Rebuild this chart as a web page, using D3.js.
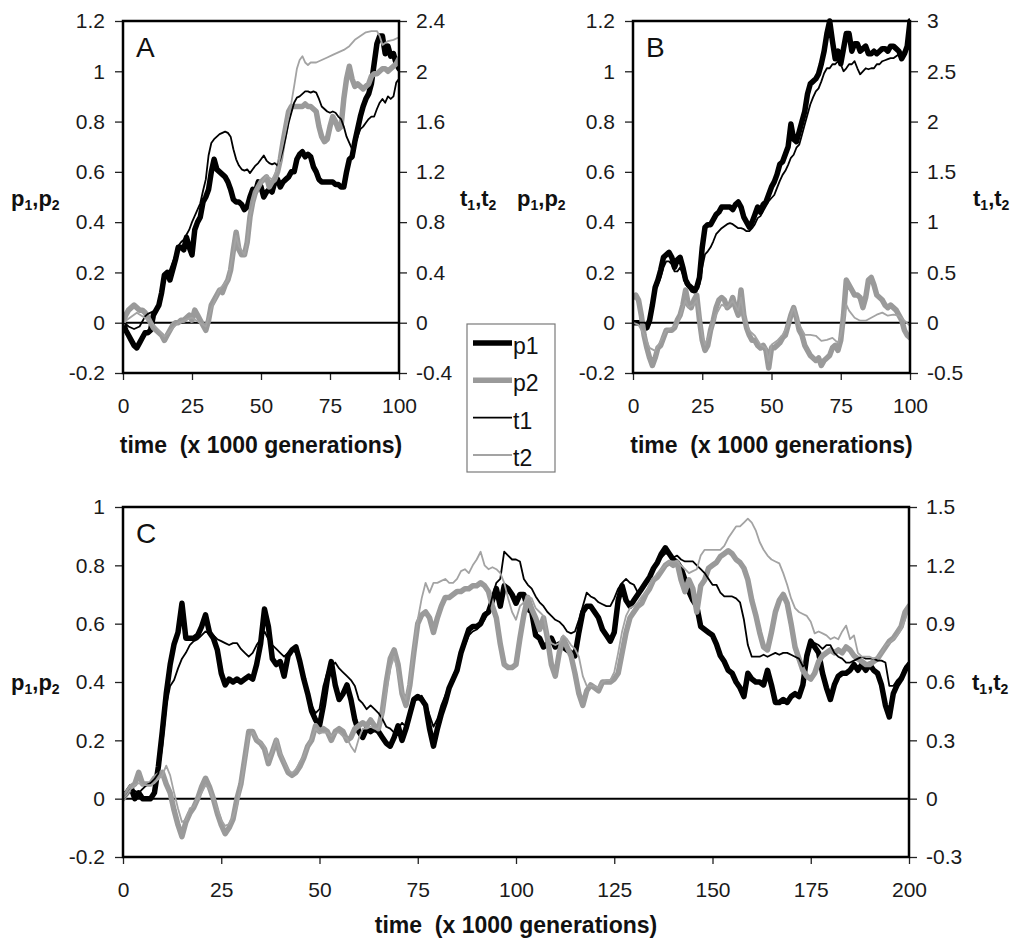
<!DOCTYPE html>
<html><head><meta charset="utf-8">
<script src="https://cdn.jsdelivr.net/npm/d3@7"></script>
<style>
html,body{margin:0;padding:0;background:#fff;}
svg{display:block;}
</style></head>
<body>
<svg id="chart" width="1012" height="942"></svg>
<script>
// ---------------- DATA ----------------
const seriesNames = ["p1", "p2", "t1", "t2"];
const xTicksAB = [0, 25, 50, 75, 100];
const xTicksC = [0, 25, 50, 75, 100, 125, 150, 175, 200];
const leftTicksAB = [-0.2, 0, 0.2, 0.4, 0.6, 0.8, 1, 1.2];
const rightTicksA = [-0.4, 0, 0.4, 0.8, 1.2, 1.6, 2, 2.4];
const rightTicksB = [-0.5, 0, 0.5, 1, 1.5, 2, 2.5, 3];
const leftTicksC = [-0.2, 0, 0.2, 0.4, 0.6, 0.8, 1];
const rightTicksC = [-0.3, 0, 0.3, 0.6, 0.9, 1.2, 1.5];
const xTitle = "time  (x 1000 generations)";

// sampling grids (time, x 1000 generations)
const timeAB = d3.range(0, 101);
const timeC = d3.range(0, 201);

// Panel A
const A_p1 = [0,-0.03,-0.05,-0.07,-0.09,-0.1,-0.08,-0.06,-0.04,-0.04,
-0.03,0.03,0.05,0.07,0.12,0.19,0.2,0.17,0.21,0.25,
0.3,0.3,0.29,0.34,0.3,0.27,0.37,0.4,0.42,0.48,
0.5,0.53,0.6,0.65,0.61,0.6,0.59,0.58,0.56,0.53,
0.49,0.48,0.48,0.47,0.45,0.46,0.5,0.53,0.52,0.56,
0.54,0.5,0.52,0.53,0.52,0.56,0.57,0.54,0.56,0.57,
0.58,0.6,0.6,0.65,0.67,0.68,0.66,0.67,0.66,0.62,
0.6,0.57,0.56,0.56,0.56,0.56,0.56,0.55,0.55,0.54,
0.54,0.6,0.65,0.66,0.72,0.77,0.82,0.86,0.89,0.91,
0.95,1.03,1.11,1.14,1.14,1.07,1.1,1.06,1.07,1.03,
1.01];
const A_p2 = [0,0.03,0.05,0.06,0.07,0.06,0.05,0.05,0.04,0.02,
0,-0.02,-0.03,-0.04,-0.05,-0.07,-0.05,-0.03,-0.01,0,
0,0.01,0.01,0.02,0.03,0.01,0.05,0.03,0.01,-0.01,
-0.03,0.01,0.07,0.09,0.11,0.13,0.12,0.15,0.17,0.21,
0.29,0.36,0.29,0.27,0.27,0.32,0.42,0.48,0.52,0.54,
0.56,0.57,0.58,0.54,0.56,0.57,0.6,0.65,0.72,0.78,
0.84,0.86,0.86,0.86,0.86,0.86,0.87,0.86,0.86,0.85,
0.84,0.78,0.74,0.72,0.73,0.78,0.82,0.8,0.77,0.78,
0.89,0.97,1.02,0.97,0.94,0.95,0.94,0.93,0.94,0.95,
0.98,0.99,0.99,1,1.01,1.01,1,1.01,1.02,1.03,
1.05];
const A_t1 = [0,-0.01,-0.03,-0.04,-0.05,-0.04,-0.03,0.01,0.05,0.07,
0.08,0.09,0.11,0.15,0.19,0.32,0.4,0.42,0.48,0.54,
0.61,0.64,0.66,0.7,0.74,0.8,0.85,0.9,0.95,1.05,
1.14,1.33,1.43,1.46,1.48,1.5,1.51,1.52,1.51,1.48,
1.38,1.3,1.25,1.22,1.21,1.22,1.19,1.22,1.25,1.27,
1.3,1.33,1.29,1.27,1.26,1.27,1.25,1.3,1.38,1.48,
1.59,1.67,1.75,1.79,1.8,1.82,1.84,1.84,1.83,1.84,
1.83,1.78,1.72,1.7,1.68,1.67,1.68,1.67,1.64,1.62,
1.56,1.48,1.43,1.38,1.41,1.48,1.54,1.56,1.59,1.62,
1.64,1.64,1.7,1.75,1.78,1.75,1.8,1.78,1.8,1.91,
1.94];
const A_t2_time = [0,5,10,15,20,25,30,32,35,38,40,41,42,44,45,46,48,50,52,54,56,58,60,61,62,63,64,65,66,67,68,70,72,74,76,78,80,82,84,86,88,90,92,93,94,96,98,100];
const A_t2 = [0,0.08,0.01,-0.11,0,0.04,-0.03,0.11,0.27,0.34,0.56,0.69,0.61,0.54,0.64,0.85,1.03,1.11,1.17,1.14,1.22,1.43,1.64,1.75,1.88,2.02,2.09,2.12,2.07,2.05,2.07,2.07,2.09,2.11,2.13,2.15,2.17,2.2,2.25,2.28,2.31,2.32,2.32,2.28,2.21,2.24,2.25,2.27];

// Panel B
const B_p1 = [0,0,0,0,-0.01,-0.02,0.01,0.07,0.14,0.17,
0.21,0.26,0.27,0.28,0.26,0.22,0.25,0.26,0.22,0.17,
0.15,0.14,0.13,0.14,0.18,0.3,0.38,0.39,0.39,0.41,
0.43,0.44,0.46,0.46,0.46,0.46,0.45,0.47,0.48,0.46,
0.42,0.4,0.38,0.4,0.43,0.46,0.44,0.47,0.48,0.51,
0.54,0.56,0.59,0.63,0.64,0.67,0.7,0.79,0.73,0.72,
0.76,0.8,0.84,0.91,0.95,0.96,0.97,0.99,1.03,1.08,
1.15,1.2,1.12,1.05,1.08,1.03,1.09,1.15,1.15,1.08,
1.11,1.11,1.08,1.09,1.1,1.07,1.07,1.08,1.07,1.08,
1.09,1.09,1.08,1.1,1.1,1.09,1.08,1.05,1.07,1.1,
1.2];
const B_p2 = [0.1,0.11,0.09,0.03,-0.05,-0.1,-0.14,-0.17,-0.14,-0.1,
-0.09,-0.06,-0.03,-0.03,-0.03,-0.02,0.01,0.03,0.07,0.13,
0.07,0.06,0.09,0.11,0.01,-0.07,-0.11,-0.09,-0.03,0.01,
0.06,0.09,0.1,0.09,0.06,0.07,0.1,0.06,0.03,0.13,
0.03,-0.02,-0.05,-0.07,-0.07,-0.09,-0.1,-0.09,-0.11,-0.18,
-0.1,-0.1,-0.09,-0.08,-0.06,-0.05,-0.01,0.03,0.06,0.02,
-0.03,-0.05,-0.09,-0.11,-0.13,-0.14,-0.15,-0.14,-0.17,-0.15,
-0.14,-0.13,-0.1,-0.09,-0.11,-0.07,0.03,0.17,0.15,0.13,
0.11,0.11,0.1,0.06,0.1,0.17,0.18,0.15,0.11,0.1,
0.09,0.07,0.06,0.07,0.06,0.05,0.03,0.01,-0.03,-0.05,
-0.06];
const B_t1 = [0,0,0,0,0,-0.01,-0.02,0.15,0.31,0.38,
0.45,0.55,0.61,0.61,0.58,0.51,0.51,0.55,0.48,0.38,
0.35,0.31,0.3,0.31,0.38,0.55,0.68,0.71,0.75,0.81,
0.88,0.91,0.94,0.96,0.98,0.99,0.98,0.96,0.94,0.94,
0.93,0.91,0.91,0.94,0.98,1.04,1.06,1.11,1.16,1.21,
1.24,1.27,1.34,1.41,1.47,1.51,1.57,1.64,1.67,1.74,
1.77,1.87,1.97,2.07,2.17,2.24,2.3,2.33,2.4,2.48,
2.53,2.53,2.57,2.57,2.6,2.57,2.5,2.53,2.57,2.57,
2.6,2.53,2.47,2.5,2.53,2.52,2.53,2.53,2.57,2.57,
2.6,2.61,2.62,2.63,2.63,2.65,2.67,2.68,2.7,2.72,
2.73];
const B_t2_time = [0,2,4,6,8,10,12,14,16,18,19,20,22,23,24,25,26,28,30,32,34,36,38,39,40,42,44,46,48,49,50,52,54,56,57,58,60,62,64,66,68,70,72,74,75,76,77,78,80,82,84,86,88,90,92,94,96,98,100];
const B_t2 = [0,-0.02,-0.12,-0.25,-0.28,-0.18,-0.08,-0.05,-0.02,0.15,0.22,0.15,0.18,0.22,0.08,-0.12,-0.22,-0.08,0.08,0.18,0.15,0.22,0.12,0.25,0.08,-0.08,-0.13,-0.22,-0.25,-0.38,-0.22,-0.18,-0.12,-0.02,0.08,0.15,-0.02,-0.12,-0.12,-0.13,-0.18,-0.17,-0.15,-0.2,-0.12,0.02,0.18,0.12,0.05,0.02,0.02,0.05,0.08,0.1,0.07,0.08,0.07,0.02,-0.03];

// Panel C
const C_p1 = [0.01,0.02,0.04,0,0.02,0,0,0,0.02,0.11,
0.23,0.36,0.46,0.53,0.57,0.67,0.55,0.55,0.55,0.56,
0.59,0.63,0.57,0.55,0.51,0.43,0.39,0.41,0.4,0.41,
0.4,0.41,0.42,0.41,0.46,0.53,0.65,0.59,0.48,0.46,
0.47,0.42,0.49,0.51,0.52,0.47,0.41,0.36,0.3,0.27,
0.25,0.32,0.41,0.47,0.39,0.34,0.36,0.39,0.34,0.27,
0.23,0.21,0.24,0.23,0.24,0.23,0.21,0.19,0.18,0.21,
0.25,0.2,0.24,0.29,0.34,0.35,0.34,0.32,0.24,0.18,
0.24,0.29,0.33,0.38,0.41,0.44,0.5,0.54,0.58,0.59,
0.59,0.6,0.63,0.64,0.68,0.72,0.66,0.73,0.72,0.7,
0.67,0.7,0.7,0.65,0.64,0.56,0.55,0.52,0.53,0.55,
0.52,0.53,0.52,0.51,0.5,0.49,0.57,0.64,0.66,0.66,
0.64,0.62,0.58,0.56,0.54,0.57,0.68,0.73,0.68,0.66,
0.68,0.7,0.72,0.74,0.76,0.79,0.81,0.84,0.86,0.84,
0.82,0.81,0.79,0.75,0.71,0.68,0.66,0.59,0.58,0.57,
0.56,0.53,0.49,0.47,0.44,0.43,0.4,0.38,0.35,0.43,
0.41,0.4,0.4,0.39,0.44,0.39,0.33,0.33,0.34,0.33,
0.35,0.36,0.35,0.39,0.49,0.54,0.52,0.5,0.43,0.38,
0.34,0.39,0.42,0.43,0.43,0.44,0.46,0.44,0.46,0.44,
0.46,0.44,0.43,0.39,0.32,0.28,0.36,0.39,0.41,0.44,
0.46];
const C_p2 = [0,0.02,0.04,0.05,0.09,0.05,0.05,0.05,0.07,0.08,
0.09,0.05,0.02,-0.04,-0.09,-0.13,-0.08,-0.05,-0.03,0,
0.04,0.07,0.04,0,-0.05,-0.09,-0.12,-0.1,-0.07,0,
0.05,0.14,0.23,0.23,0.2,0.19,0.17,0.12,0.16,0.2,
0.15,0.12,0.09,0.08,0.09,0.11,0.14,0.18,0.2,0.25,
0.23,0.24,0.23,0.2,0.23,0.24,0.23,0.2,0.21,0.24,
0.25,0.26,0.25,0.27,0.25,0.24,0.3,0.4,0.48,0.51,
0.46,0.36,0.32,0.39,0.5,0.6,0.63,0.64,0.62,0.57,
0.62,0.66,0.69,0.69,0.7,0.71,0.71,0.72,0.72,0.73,
0.73,0.74,0.73,0.71,0.66,0.62,0.53,0.46,0.45,0.45,
0.46,0.55,0.63,0.69,0.65,0.62,0.58,0.62,0.55,0.46,
0.42,0.5,0.55,0.52,0.49,0.43,0.36,0.32,0.37,0.39,
0.38,0.37,0.4,0.4,0.4,0.41,0.43,0.5,0.57,0.62,
0.64,0.66,0.67,0.7,0.72,0.75,0.76,0.78,0.8,0.81,
0.8,0.81,0.75,0.71,0.75,0.72,0.64,0.73,0.75,0.79,
0.8,0.81,0.83,0.84,0.85,0.84,0.82,0.81,0.79,0.75,
0.68,0.63,0.57,0.52,0.51,0.57,0.64,0.68,0.7,0.67,
0.6,0.52,0.48,0.44,0.42,0.41,0.43,0.47,0.49,0.5,
0.51,0.5,0.51,0.5,0.52,0.51,0.49,0.48,0.47,0.46,
0.46,0.47,0.48,0.5,0.52,0.54,0.55,0.57,0.59,0.64,
0.66];
const C_t1 = [0,0.02,0.05,0.04,0.03,0.05,0.07,0.08,0.1,0.13,
0.27,0.48,0.58,0.61,0.67,0.72,0.75,0.79,0.81,0.82,
0.84,0.86,0.85,0.84,0.82,0.81,0.8,0.79,0.8,0.8,
0.77,0.75,0.73,0.75,0.79,0.82,0.86,0.82,0.79,0.77,
0.75,0.73,0.75,0.77,0.75,0.7,0.61,0.55,0.48,0.44,
0.46,0.58,0.65,0.68,0.7,0.67,0.65,0.63,0.61,0.58,
0.51,0.49,0.46,0.48,0.46,0.44,0.41,0.37,0.36,0.34,
0.36,0.39,0.37,0.44,0.51,0.51,0.53,0.49,0.43,0.37,
0.41,0.48,0.53,0.58,0.63,0.68,0.75,0.79,0.84,0.86,
0.87,0.89,0.92,0.96,1.04,1.11,1.13,1.27,1.25,1.23,
1.23,1.22,1.13,1.1,1.08,1.04,1.01,0.99,0.96,0.94,
0.92,0.91,0.89,0.86,0.85,0.86,0.92,0.99,1.06,1.04,
1.03,1.01,1,0.99,0.99,1.03,1.08,1.11,1.13,1.11,
1.1,1.06,1.08,1.11,1.15,1.18,1.22,1.24,1.26,1.26,
1.24,1.25,1.23,1.22,1.22,1.22,1.2,1.18,1.16,1.13,
1.1,1.1,1.06,1.04,1.04,1.04,1.03,1.01,0.92,0.79,
0.73,0.73,0.73,0.74,0.73,0.74,0.75,0.74,0.75,0.75,
0.74,0.73,0.72,0.68,0.7,0.79,0.8,0.79,0.77,0.79,
0.79,0.75,0.73,0.72,0.7,0.7,0.71,0.72,0.73,0.72,
0.72,0.72,0.71,0.71,0.7,0.58,0.58,0.61,0.63,0.68,
0.7];
const C_t2 = [0,0.02,0.05,0.07,0.08,0.07,0.07,0.07,0.08,0.1,
0.12,0.17,0.12,0.03,-0.05,-0.12,-0.11,-0.05,-0.04,0,
0.03,0.07,0.05,0,-0.05,-0.11,-0.14,-0.13,-0.09,-0.04,
0.07,0.19,0.32,0.34,0.31,0.29,0.27,0.2,0.24,0.31,
0.24,0.19,0.15,0.13,0.15,0.19,0.22,0.27,0.31,0.36,
0.34,0.34,0.34,0.32,0.34,0.34,0.32,0.31,0.27,0.24,
0.31,0.36,0.36,0.37,0.36,0.36,0.43,0.55,0.67,0.73,
0.65,0.55,0.51,0.61,0.77,0.92,1.03,1.11,1.06,1.11,
1.11,1.12,1.13,1.11,1.11,1.13,1.17,1.18,1.16,1.2,
1.23,1.27,1.2,1.18,1.19,1.18,1.16,1.11,1.03,0.96,
0.92,0.99,1.01,1.04,1.03,0.98,0.96,0.94,0.84,0.8,
0.79,0.8,0.84,0.82,0.79,0.77,0.73,0.63,0.58,0.58,
0.58,0.57,0.6,0.61,0.61,0.65,0.75,0.86,0.94,0.98,
0.99,1.01,1.04,1.06,1.1,1.13,1.16,1.18,1.2,1.22,
1.22,1.22,1.2,1.18,1.16,1.17,1.18,1.25,1.28,1.28,
1.28,1.28,1.28,1.3,1.34,1.37,1.4,1.4,1.42,1.44,
1.42,1.38,1.32,1.28,1.25,1.23,1.22,1.21,1.16,1.1,
1.03,0.98,0.96,0.95,0.94,0.91,0.85,0.86,0.85,0.84,
0.82,0.83,0.82,0.86,0.89,0.82,0.84,0.75,0.73,0.73,
0.73,0.72,0.73,0.75,0.79,0.8,0.82,0.84,0.87,0.92,
0.98];

// ---------------- DRAWING ----------------
const FONT = "'Liberation Sans', Arial, Helvetica, sans-serif";
const styles = {
  p1: {stroke: "#000", width: 5.5},
  p2: {stroke: "#9a9a9a", width: 5.5},
  t1: {stroke: "#000", width: 1.8},
  t2: {stroke: "#a3a3a3", width: 1.8}
};
const svg = d3.select("#chart");
const fmt = d => { const v = Math.round(d * 100) / 100; return (v < 0 ? "-" : "") + Math.abs(v); };

function subLabel(g, x, y, a) {
  const t = g.append("text").attr("x", x).attr("y", y)
    .attr("font-family", FONT).attr("font-weight", "bold").attr("font-size", 22).attr("fill", "#111");
  t.append("tspan").text(a);
  t.append("tspan").attr("dy", 4).attr("font-size", 14).text("1");
  t.append("tspan").attr("dy", -4).text(",");
  t.append("tspan").text(a);
  t.append("tspan").attr("dy", 4).attr("font-size", 14).text("2");
}

function drawPanel(c) {
  const x = d3.scaleLinear().domain(c.xDomain).range([c.left, c.right]);
  const yL = d3.scaleLinear().domain(c.yLeft).range([c.bottom, c.top]);
  const yR = d3.scaleLinear().domain(c.yRight).range([c.bottom, c.top]);
  const g = svg.append("g");

  const styleAxis = sel => {
    sel.select(".domain").remove();
    sel.selectAll(".tick line").attr("stroke", "#222").attr("stroke-width", 1.3);
    sel.selectAll(".tick text").attr("font-family", FONT).attr("font-size", 21).attr("fill", "#1a1a1a");
  };
  g.append("g").attr("transform", `translate(${c.left},0)`)
    .call(d3.axisLeft(yL).tickValues(c.leftTicks).tickFormat(fmt).tickSize(8).tickPadding(10).tickSizeOuter(0))
    .call(styleAxis);
  g.append("g").attr("transform", `translate(${c.right},0)`)
    .call(d3.axisRight(yR).tickValues(c.rightTicks).tickFormat(fmt).tickSize(8).tickPadding(9).tickSizeOuter(0))
    .call(styleAxis);
  g.append("g").attr("transform", `translate(0,${c.bottom})`)
    .call(d3.axisBottom(x).tickValues(c.xTicks).tickFormat(fmt).tickSize(7).tickPadding(18).tickSizeOuter(0))
    .call(styleAxis);

  // zero line
  g.append("line").attr("x1", c.left).attr("x2", c.right)
    .attr("y1", yL(0)).attr("y2", yL(0)).attr("stroke", "#000").attr("stroke-width", 2);

  const clipId = "clip" + c.name;
  svg.append("clipPath").attr("id", clipId).append("rect")
    .attr("x", c.left).attr("y", c.top - 3).attr("width", c.right - c.left).attr("height", c.bottom - c.top + 6);

  const lines = g.append("g").attr("clip-path", `url(#${clipId})`);
  c.series.forEach(s => {
    const ys = s.axis === "left" ? yL : yR;
    const pts = s.values.map((v, i) => [x(s.time[i]), ys(v)]);
    lines.append("path").attr("d", d3.line()(pts))
      .attr("fill", "none").attr("stroke", styles[s.name].stroke)
      .attr("stroke-width", styles[s.name].width)
      .attr("stroke-linejoin", "round").attr("stroke-linecap", "round");
  });

  // frame
  g.append("rect").attr("x", c.left).attr("y", c.top)
    .attr("width", c.right - c.left).attr("height", c.bottom - c.top)
    .attr("fill", "none").attr("stroke", "#000").attr("stroke-width", 2.5);

  // panel letter
  g.append("text").attr("x", c.left + 13).attr("y", c.top + 36)
    .attr("font-family", FONT).attr("font-size", 28).attr("fill", "#111").text(c.name);

  // titles
  g.append("text").attr("x", (c.left + c.right) / 2).attr("y", c.titleY)
    .attr("text-anchor", "middle").attr("font-family", FONT).attr("font-weight", "bold")
    .attr("font-size", 23).attr("fill", "#111").attr("xml:space", "preserve").text(xTitle);
  subLabel(g, c.pLabelX, c.labelY, "p");
  subLabel(g, c.tLabelX, c.labelY, "t");
}

drawPanel({
  name: "A", left: 123, right: 399, top: 21, bottom: 373,
  xDomain: [0, 100], yLeft: [-0.2, 1.2], yRight: [-0.4, 2.4],
  xTicks: xTicksAB, leftTicks: leftTicksAB, rightTicks: rightTicksA,
  titleY: 453, labelY: 206, pLabelX: 11, tLabelX: 460,
  series: [
    {name: "p1", axis: "left", time: timeAB, values: A_p1},
    {name: "p2", axis: "left", time: timeAB, values: A_p2},
    {name: "t1", axis: "right", time: timeAB, values: A_t1},
    {name: "t2", axis: "right", time: A_t2_time, values: A_t2}
  ]
});
drawPanel({
  name: "B", left: 633, right: 910, top: 21, bottom: 373,
  xDomain: [0, 100], yLeft: [-0.2, 1.2], yRight: [-0.5, 3],
  xTicks: xTicksAB, leftTicks: leftTicksAB, rightTicks: rightTicksB,
  titleY: 453, labelY: 206, pLabelX: 517, tLabelX: 973,
  series: [
    {name: "p1", axis: "left", time: timeAB, values: B_p1},
    {name: "p2", axis: "left", time: timeAB, values: B_p2},
    {name: "t1", axis: "right", time: timeAB, values: B_t1},
    {name: "t2", axis: "right", time: B_t2_time, values: B_t2}
  ]
});
drawPanel({
  name: "C", left: 123, right: 909, top: 507, bottom: 857,
  xDomain: [0, 200], yLeft: [-0.2, 1], yRight: [-0.3, 1.5],
  xTicks: xTicksC, leftTicks: leftTicksC, rightTicks: rightTicksC,
  titleY: 933, labelY: 690, pLabelX: 11, tLabelX: 972,
  series: [
    {name: "p1", axis: "left", time: timeC, values: C_p1},
    {name: "p2", axis: "left", time: timeC, values: C_p2},
    {name: "t1", axis: "right", time: timeC, values: C_t1},
    {name: "t2", axis: "right", time: timeC, values: C_t2}
  ]
});

// legend
const lg = svg.append("g");
lg.append("rect").attr("x", 467).attr("y", 324).attr("width", 88).attr("height", 148)
  .attr("fill", "#fff").attr("stroke", "#7a7a7a").attr("stroke-width", 1.2);
const legendY = d3.scalePoint().domain(seriesNames).range([343, 455]);
seriesNames.forEach(n => {
  const y = legendY(n);
  lg.append("line").attr("x1", 473).attr("x2", 512).attr("y1", y).attr("y2", y)
    .attr("stroke", styles[n].stroke).attr("stroke-width", styles[n].width);
  lg.append("text").attr("x", 513).attr("y", y + 11).attr("font-family", FONT)
    .attr("font-size", 23).attr("fill", "#111").text(n);
});
</script>
</body></html>
